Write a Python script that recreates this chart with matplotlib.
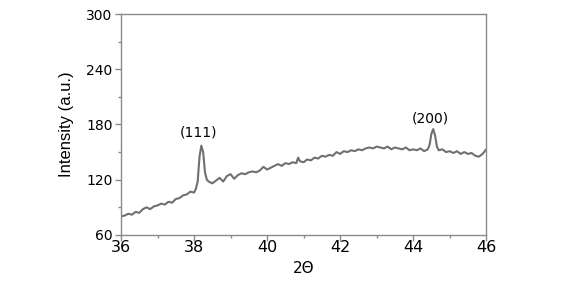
import matplotlib
matplotlib.use("Agg")
import matplotlib.pyplot as plt
from matplotlib.ticker import MultipleLocator

two_theta = [36.0, 36.1, 36.2, 36.3, 36.4, 36.5, 36.6, 36.7, 36.8, 36.9,
             37.0, 37.1, 37.2, 37.3, 37.4, 37.5, 37.6, 37.7, 37.8, 37.9,
             38.0, 38.05, 38.1, 38.15, 38.2, 38.25, 38.3, 38.35, 38.4, 38.5,
             38.6, 38.7, 38.8, 38.9, 39.0, 39.1, 39.2, 39.3, 39.4, 39.5,
             39.6, 39.7, 39.8, 39.9, 40.0, 40.1, 40.2, 40.3, 40.4, 40.5,
             40.6, 40.7, 40.8, 40.85, 40.9, 41.0, 41.1, 41.2, 41.3, 41.4,
             41.5, 41.6, 41.7, 41.8, 41.9, 42.0, 42.1, 42.2, 42.3, 42.4,
             42.5, 42.6, 42.7, 42.8, 42.9, 43.0, 43.1, 43.2, 43.3, 43.4,
             43.5, 43.6, 43.7, 43.8, 43.9, 44.0, 44.1, 44.2, 44.3, 44.4,
             44.45, 44.5, 44.55, 44.6, 44.65, 44.7, 44.8, 44.9, 45.0, 45.1,
             45.2, 45.3, 45.4, 45.5, 45.6, 45.7, 45.8, 45.9, 46.0]
intensity = [80, 81, 83, 82, 85, 84, 88, 90, 88, 91,
             92, 94, 93, 96, 95, 99, 100, 103, 104, 107,
             106, 110, 118, 145, 157, 150, 128, 120, 118, 116,
             119, 122, 118, 124, 126, 121, 125, 127, 126, 128,
             129, 128, 130, 134, 131, 133, 135, 137, 135, 138,
             137, 139, 138, 144, 140, 139, 142, 141, 144, 143,
             146, 145, 147, 146, 150, 148, 151, 150, 152, 151,
             153, 152, 154, 155, 154, 156, 155, 154, 156, 153,
             155, 154, 153, 155, 152, 153, 152, 154, 151, 153,
             158, 170, 175, 168, 156, 152, 153, 150, 151, 149,
             151, 148, 150, 148, 149, 146, 145, 148, 153]

peak_labels = ["(111)", "(200)"]
xticks = [36, 38, 40, 42, 44, 46]
yticks = [60, 120, 180, 240, 300]

plt.rcParams['font.family'] = ['DejaVu Sans']

fig = plt.figure(figsize=(5.68, 2.81), dpi=100)
ax = fig.add_axes([0.213, 0.164, 0.643, 0.786])
ax.plot(two_theta, intensity, color='#707070', lw=1.5)
ax.set_xlim(36, 46)
ax.set_ylim(60, 300)
ax.set_xticks(xticks)
ax.set_yticks(yticks)
ax.xaxis.set_minor_locator(MultipleLocator(1))
ax.yaxis.set_minor_locator(MultipleLocator(30))
for s in ax.spines.values():
    s.set_color('#8a8a8a')
    s.set_linewidth(1.0)
ax.tick_params(axis='both', which='major', direction='out', length=4, color='#8a8a8a', width=1)
ax.tick_params(axis='both', which='minor', direction='out', length=2, color='#8a8a8a', width=1)
ax.tick_params(axis='x', labelsize=11.5, pad=0)
ax.tick_params(axis='y', labelsize=10, pad=2)

ax.text(38.12, 171, peak_labels[0], ha='center', va='center', fontsize=10)
ax.text(44.47, 186, peak_labels[1], ha='center', va='center', fontsize=10)

ax.set_xlabel('2\u0398', fontsize=11, labelpad=4)
ax.set_ylabel('Intensity (a.u.)', fontsize=12, labelpad=9,
              family=['Liberation Sans', 'DejaVu Sans'])

fig.savefig('out.png', dpi=100)
